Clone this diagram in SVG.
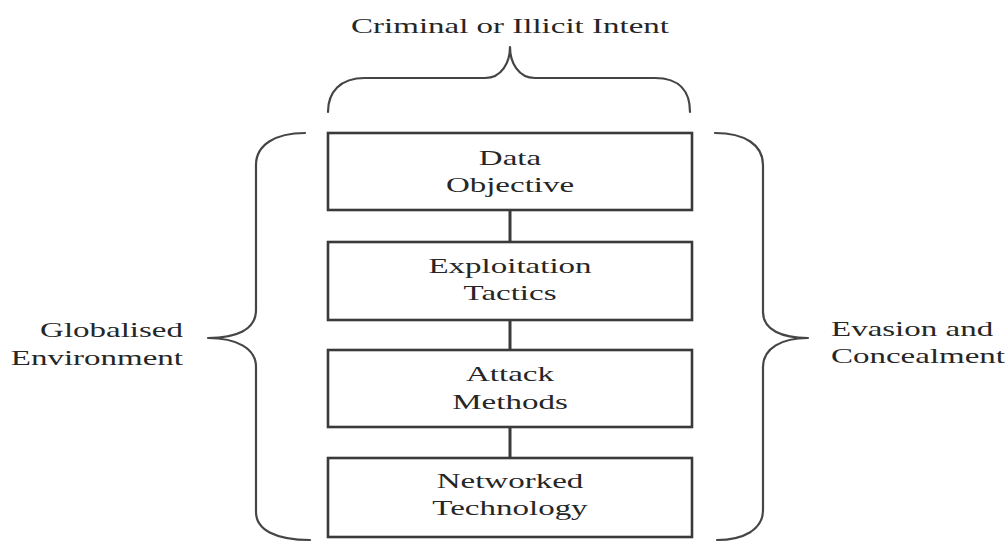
<svg xmlns="http://www.w3.org/2000/svg" width="1008" height="545" viewBox="0 0 1008 545">
  <style>
    .box { fill: #ffffff; stroke: #3a3a3a; stroke-width: 2.6; }
    .link { stroke: #3a3a3a; stroke-width: 3; fill: none; }
    .brace { fill: none; stroke: #454545; stroke-width: 2.2; stroke-linecap: round; stroke-linejoin: round; }
    .lbl { font-family: "Liberation Serif", "Times New Roman", serif; font-size: 22px; fill: #262626; }
    .mid { text-anchor: middle; }
    .end { text-anchor: end; }
    .start { text-anchor: start; }
  </style>
  <rect width="1008" height="545" fill="#ffffff"/>

  <!-- heading over the stack -->
  <g id="intent">
    <g transform="translate(510,0) scale(1.5,1)">
      <text class="lbl mid" x="0" y="33">Criminal or Illicit Intent</text>
    </g>
    <path class="brace" d="M328,112 C328,92 340,78 365,78 L485,78 C502,78 510,62 510,47 C510,62 518,78 535,78 L655,78 C680,78 690,92 690,112"/>
  </g>

  <!-- side braces -->
  <g id="environment">
    <path class="brace" d="M305,133 C275,133 256,145 256,165 L256,310 C256,330 236,338 208,338 C236,338 256,348 256,367 L256,512 C256,530 276,540 310,540"/>
    <g transform="translate(183,0) scale(1.5,1)">
      <text class="lbl end" x="0" y="337">Globalised</text>
      <text class="lbl end" x="0" y="365">Environment</text>
    </g>
  </g>

  <g id="evasion">
    <path class="brace" d="M715,133 C745,133 763,145 763,165 L763,312 C763,330 782,338 808,338 C782,338 763,348 763,367 L763,510 C763,530 743,540 717,540"/>
    <g transform="translate(831,0) scale(1.5,1)">
      <text class="lbl start" x="0" y="336">Evasion and</text>
      <text class="lbl start" x="0" y="363">Concealment</text>
    </g>
  </g>

  <!-- vertical links between the layers -->
  <g id="connectors">
    <line class="link" x1="510" y1="210" x2="510" y2="242"/>
    <line class="link" x1="510" y1="320" x2="510" y2="350"/>
    <line class="link" x1="510" y1="427" x2="510" y2="458"/>
  </g>

  <!-- stacked layers -->
  <g id="data-objective">
    <rect class="box" x="328" y="133" width="364" height="77"/>
    <g transform="translate(510,0) scale(1.5,1)">
      <text class="lbl mid" x="0" y="165">Data</text>
      <text class="lbl mid" x="0" y="192">Objective</text>
    </g>
  </g>

  <g id="exploitation-tactics">
    <rect class="box" x="328" y="242" width="364" height="78"/>
    <g transform="translate(510,0) scale(1.5,1)">
      <text class="lbl mid" x="0" y="273">Exploitation</text>
      <text class="lbl mid" x="0" y="300">Tactics</text>
    </g>
  </g>

  <g id="attack-methods">
    <rect class="box" x="328" y="350" width="364" height="77"/>
    <g transform="translate(510,0) scale(1.5,1)">
      <text class="lbl mid" x="0" y="381">Attack</text>
      <text class="lbl mid" x="0" y="409">Methods</text>
    </g>
  </g>

  <g id="networked-technology">
    <rect class="box" x="328" y="458" width="364" height="79"/>
    <g transform="translate(510,0) scale(1.5,1)">
      <text class="lbl mid" x="0" y="488">Networked</text>
      <text class="lbl mid" x="0" y="515">Technology</text>
    </g>
  </g>
</svg>
